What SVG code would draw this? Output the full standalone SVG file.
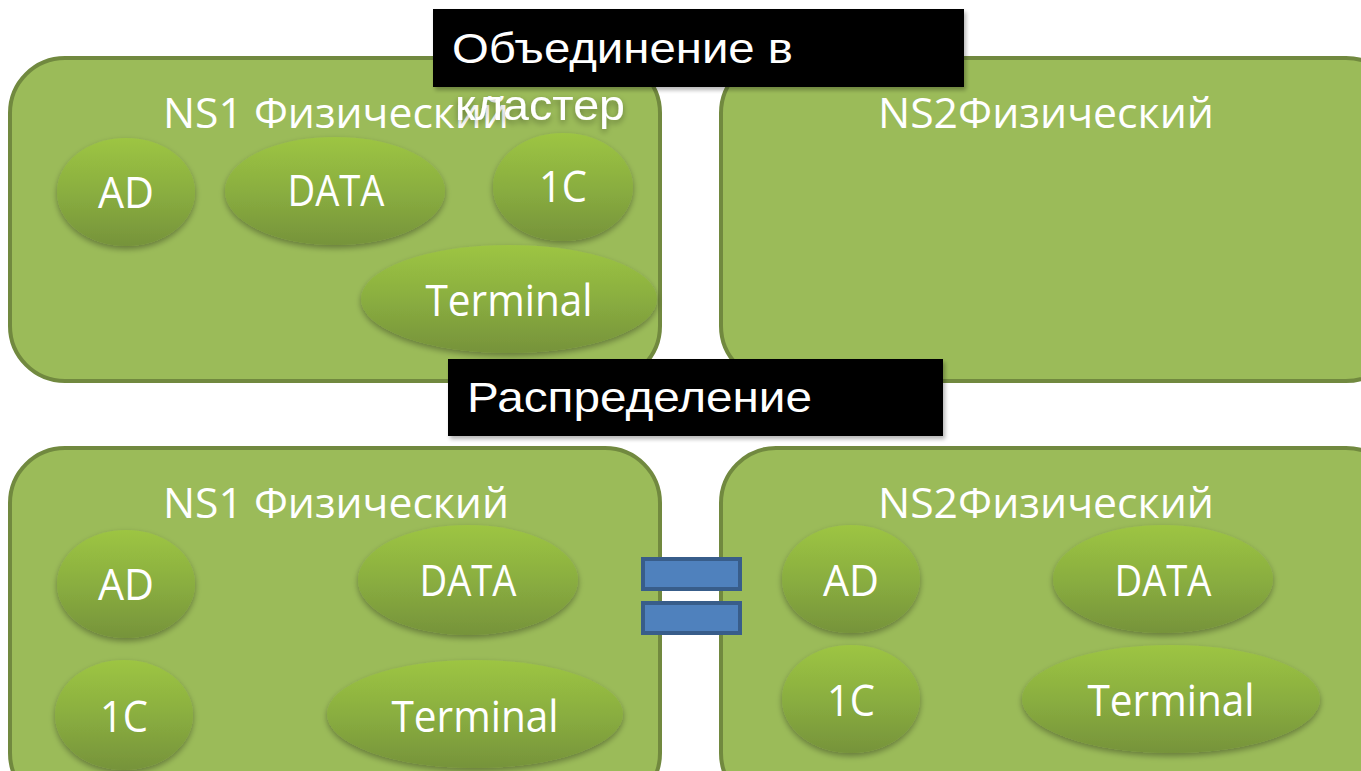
<svg xmlns="http://www.w3.org/2000/svg" width="1361" height="771" viewBox="0 0 1361 771">
<style>
.box{fill:#9BBB59;stroke:#71893F;stroke-width:4}
.el{fill:url(#eg);filter:url(#sh)}
.t{font-family:"Open Sans","Noto Sans","DejaVu Sans",sans-serif;fill:#fff;text-anchor:middle}
.ti{font-size:42px}
.nl{font-size:43px}
.lbl{fill:#000;filter:url(#bs)}
.lt{font-family:"Liberation Sans",Arial,sans-serif;fill:#fff;font-size:42px}
.bar{fill:#4F81BD;stroke:#385D8A;stroke-width:4}
</style>
<defs>
<linearGradient id="eg" x1="0" y1="0" x2="0" y2="1">
<stop offset="0" stop-color="#9DC543"/>
<stop offset="0.5" stop-color="#8AAE40"/>
<stop offset="1" stop-color="#76933A"/>
</linearGradient>
<filter id="sh" x="-20%" y="-20%" width="140%" height="150%">
<feGaussianBlur in="SourceAlpha" stdDeviation="3"/>
<feOffset dy="3" result="b"/>
<feComponentTransfer><feFuncA type="linear" slope="0.35"/></feComponentTransfer>
<feMerge><feMergeNode/><feMergeNode in="SourceGraphic"/></feMerge>
</filter>
<filter id="bs" x="-5%" y="-10%" width="110%" height="130%">
<feGaussianBlur in="SourceAlpha" stdDeviation="2"/>
<feOffset dx="2" dy="3"/>
<feComponentTransfer><feFuncA type="linear" slope="0.3"/></feComponentTransfer>
<feMerge><feMergeNode/><feMergeNode in="SourceGraphic"/></feMerge>
</filter>
</defs>
<rect width="1361" height="771" fill="#fff"/>

<g id="box-tl">
<rect class="box" x="10" y="58" width="650" height="323" rx="55"/>
<text class="t ti" x="336" y="128" textLength="346" lengthAdjust="spacingAndGlyphs">NS1 Физический</text>
</g>
<g id="tl-ad"><ellipse class="el" cx="126" cy="192" rx="69" ry="54"/><text class="t nl" x="126" y="208" textLength="56" lengthAdjust="spacingAndGlyphs">AD</text></g>
<g id="tl-data"><ellipse class="el" cx="335" cy="191" rx="110" ry="54"/><text class="t nl" x="336" y="206" textLength="97" lengthAdjust="spacingAndGlyphs">DATA</text></g>
<g id="tl-1c"><ellipse class="el" cx="563" cy="187" rx="70" ry="54"/><text class="t nl" x="563" y="202" textLength="48" lengthAdjust="spacingAndGlyphs">1C</text></g>
<g id="tl-term"><ellipse class="el" cx="509" cy="299" rx="148" ry="54"/><text class="t nl" x="509" y="316" textLength="167" lengthAdjust="spacingAndGlyphs">Terminal</text></g>

<g id="box-tr">
<rect class="box" x="721" y="58" width="680" height="323" rx="55"/>
<text class="t ti" x="1046" y="128" textLength="336" lengthAdjust="spacingAndGlyphs">NS2Физический</text>
</g>

<g id="box-bl">
<rect class="box" x="10" y="448" width="650" height="360" rx="55"/>
<text class="t ti" x="336" y="518" textLength="346" lengthAdjust="spacingAndGlyphs">NS1 Физический</text>
</g>
<g id="bl-ad"><ellipse class="el" cx="126" cy="584" rx="69" ry="54"/><text class="t nl" x="126" y="600" textLength="56" lengthAdjust="spacingAndGlyphs">AD</text></g>
<g id="bl-data"><ellipse class="el" cx="468" cy="580" rx="110" ry="55"/><text class="t nl" x="468" y="596" textLength="97" lengthAdjust="spacingAndGlyphs">DATA</text></g>
<g id="bl-1c"><ellipse class="el" cx="124" cy="715" rx="69" ry="55"/><text class="t nl" x="124" y="732" textLength="48" lengthAdjust="spacingAndGlyphs">1C</text></g>
<g id="bl-term"><ellipse class="el" cx="475" cy="714" rx="148" ry="54"/><text class="t nl" x="475" y="732" textLength="167" lengthAdjust="spacingAndGlyphs">Terminal</text></g>

<g id="box-br">
<rect class="box" x="721" y="448" width="680" height="360" rx="55"/>
<text class="t ti" x="1046" y="518" textLength="336" lengthAdjust="spacingAndGlyphs">NS2Физический</text>
</g>
<g id="br-ad"><ellipse class="el" cx="851" cy="579" rx="69" ry="54"/><text class="t nl" x="851" y="596" textLength="56" lengthAdjust="spacingAndGlyphs">AD</text></g>
<g id="br-data"><ellipse class="el" cx="1163" cy="579" rx="110" ry="54"/><text class="t nl" x="1163" y="596" textLength="97" lengthAdjust="spacingAndGlyphs">DATA</text></g>
<g id="br-1c"><ellipse class="el" cx="851" cy="699" rx="69" ry="54"/><text class="t nl" x="851" y="716" textLength="48" lengthAdjust="spacingAndGlyphs">1C</text></g>
<g id="br-term"><ellipse class="el" cx="1171" cy="699" rx="149" ry="54"/><text class="t nl" x="1171" y="716" textLength="167" lengthAdjust="spacingAndGlyphs">Terminal</text></g>

<g id="connectors">
<rect class="bar" x="643" y="559" width="97" height="30"/>
<rect class="bar" x="643" y="603" width="97" height="30"/>
</g>

<g id="label-merge">
<rect class="lbl" x="433" y="9" width="531" height="78"/>
<text class="lt" x="452" y="63" textLength="341" lengthAdjust="spacingAndGlyphs">Объединение в</text>
<text class="lt" x="455" y="120" textLength="170" lengthAdjust="spacingAndGlyphs" filter="url(#sh)">кластер</text>
</g>
<g id="label-dist">
<rect class="lbl" x="448" y="359" width="495" height="77"/>
<text class="lt" x="467" y="412" textLength="345" lengthAdjust="spacingAndGlyphs">Распределение</text>
</g>
</svg>
